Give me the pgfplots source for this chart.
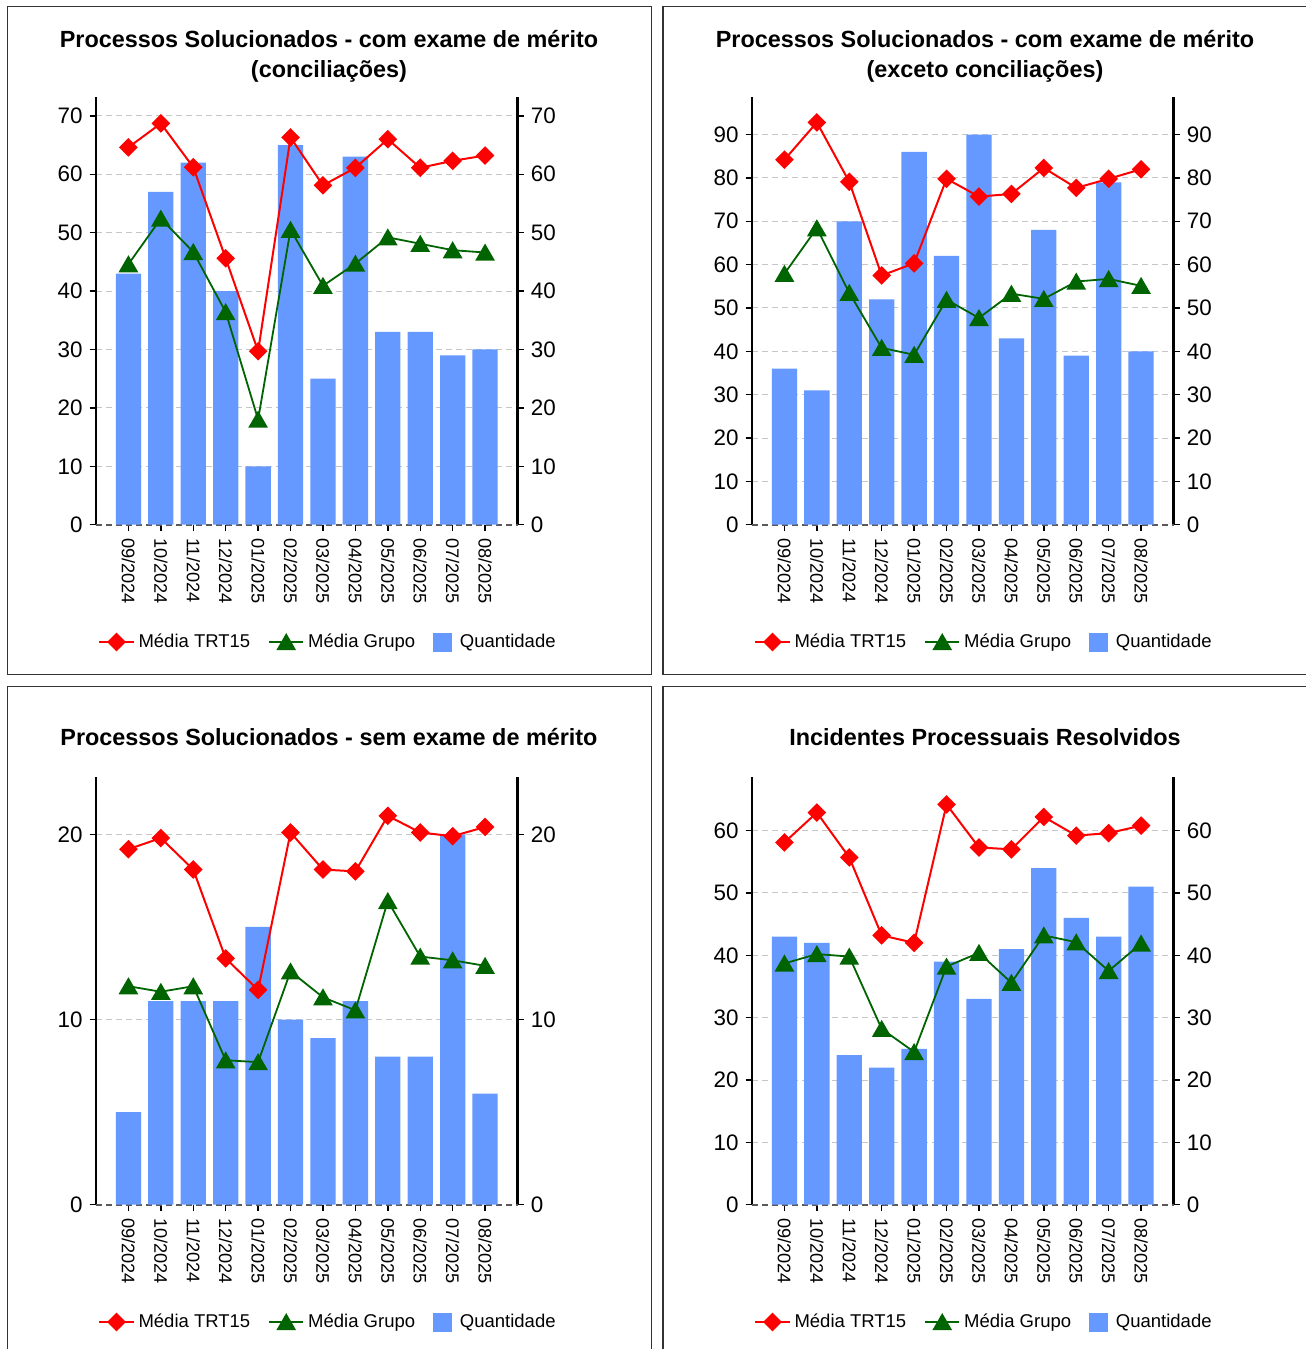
\documentclass[border=0pt]{standalone}
\usepackage{fontspec}
\setmainfont{Liberation Sans}
\usepackage{pgfplots}
\pgfplotsset{compat=1.18}
\usepackage{pgfplotstable}
\definecolor{barblue}{HTML}{6699FF}
\definecolor{grpgreen}{HTML}{006400}
\definecolor{trtred}{HTML}{FF0000}

\pgfplotstableread{
x q trt grp
0 43 64.6 44.6
1 57 68.7 52.4
2 62 61.2 46.7
3 40 45.6 36.4
4 10 29.7 18.0
5 65 66.3 50.5
6 25 58.1 40.9
7 63 61.1 44.7
8 33 66.0 49.2
9 33 61.1 48.1
10 29 62.3 47.0
11 30 63.2 46.6
}\tA
\pgfplotstableread{
x q trt grp
0 36 84.2 57.9
1 31 92.8 68.4
2 70 79.1 53.5
3 52 57.5 40.8
4 86 60.3 39.2
5 62 79.8 51.9
6 90 75.7 47.7
7 43 76.3 53.3
8 68 82.3 52.1
9 39 77.7 56.1
10 79 79.8 56.7
11 40 82.0 55.1
}\tB
\pgfplotstableread{
x q trt grp
0 5 19.2 11.8
1 11 19.8 11.5
2 11 18.1 11.8
3 11 13.3 7.8
4 15 11.6 7.7
5 10 20.1 12.6
6 9 18.1 11.2
7 11 18.0 10.5
8 8 21.0 16.4
9 8 20.1 13.4
10 20 19.9 13.2
11 6 20.4 12.9
}\tC
\pgfplotstableread{
x q trt grp
0 43 58.1 38.7
1 42 62.9 40.2
2 24 55.7 39.8
3 22 43.2 28.2
4 25 42.0 24.5
5 39 64.2 38.2
6 33 57.3 40.4
7 41 57.0 35.6
8 54 62.2 43.2
9 46 59.2 42.1
10 43 59.6 37.5
11 51 60.8 41.9
}\tD

\pgfplotsset{
  base/.style={
    scale only axis, width=210.75pt, height=213.7pt,
    xmin=-1, xmax=12, ymin=0,
    /pgf/number format/assume math mode=true,
    tick align=outside,
    major tick length=3.2pt,
    major tick style={black, line width=0.7pt},
    clip=false,
  },
  main/.style={
    base,
    separate axis lines,
    x axis line style={draw=none},
    y axis line style={line width=1.1pt, black},
    xtick={0,...,11},
    xticklabels={09/2024,10/2024,11/2024,12/2024,01/2025,02/2025,03/2025,04/2025,05/2025,06/2025,07/2025,08/2025},
    xtick pos=left,
    x tick label style={rotate=-90, anchor=west, font=\fontsize{9.1}{10}\selectfont},
    ytick pos=both,
    yticklabel pos=left,
    y tick label style={font=\fontsize{11.2}{12}\selectfont},
    ymajorgrids,
    grid style={gray!45, line width=0.5pt, dash pattern=on 3pt off 2pt},
    title style={at={(0.5528,1.067)}, anchor=center, align=center, font=\bfseries\fontsize{11.7}{15}\selectfont},
    legend style={at={(0.5528,-0.2745)}, anchor=center, draw=none, fill=none, legend columns=3,
      font=\fontsize{9.25}{11}\selectfont, /tikz/every even column/.append style={column sep=7pt}},
  },
  rightax/.style={
    base,
    axis y line*=right,
    axis x line=none,
    y axis line style={draw=none},
    ytick style={draw=none},
    y tick label style={font=\fontsize{11.2}{12}\selectfont},
  },
  trtstyle/.style={trtred, line width=1pt, mark=square*, mark size=2.8pt, mark options={rotate=45}},
  grpstyle/.style={grpgreen, line width=0.9pt, mark=triangle*, mark size=4.8pt, mark options={yshift=-1.2pt}},
}

\newcommand{\panelplots}[1]{%
  \draw[black!65, line width=0.8pt, dash pattern=on 3pt off 2pt] (axis description cs:0,0) -- (axis description cs:1,0);
  \addplot[ybar, bar width=0.78, bar shift=0pt, fill=barblue, draw=none, forget plot] table[x=x,y=q] {#1};
  \addplot[trtstyle, forget plot] table[x=x,y=trt] {#1};
  \addplot[grpstyle, forget plot] table[x=x,y=grp] {#1};
  \addlegendimage{trtstyle}
  \addlegendentry{Média TRT15}
  \addlegendimage{grpstyle}
  \addlegendentry{Média Grupo}
  \addlegendimage{legend image code/.code={\fill[barblue] (0pt,-4.5pt) rectangle (9pt,4.5pt); \path (11pt,0pt);}}
  \addlegendentry{Quantidade}
}

\begin{document}
\begin{tikzpicture}
\useasboundingbox (0,0) rectangle (653pt,-674.5pt);
\clip (0,0) rectangle (653pt,-674.5pt);
\fill[white] (0,0) rectangle (653pt,-674.5pt);
% frames
\draw[black!80, line width=0.6pt] (3.8pt,-3.25pt) rectangle (325.85pt,-337.15pt);
\draw[black!80, line width=0.6pt] (331.5pt,-3.25pt) rectangle (653.6pt,-337.15pt);
\draw[black!80, line width=0.6pt] (3.8pt,-343.25pt) rectangle (325.85pt,-677pt);
\draw[black!80, line width=0.6pt] (331.5pt,-343.25pt) rectangle (653.6pt,-677pt);

% Panel 1
\begin{axis}[main, at={(48pt,-262.35pt)}, anchor=south west, ymax=73.17, ytick={0,10,...,70},
  title={Processos Solucionados - com exame de mérito\\(conciliações)}]
\panelplots{\tA}
\end{axis}
\begin{axis}[rightax, at={(48pt,-262.35pt)}, anchor=south west, ymax=73.17, ytick={0,10,...,70}]
\addplot[draw=none] coordinates {(0,0)};
\end{axis}

% Panel 2
\begin{axis}[main, at={(376pt,-262.35pt)}, anchor=south west, ymax=98.6, ytick={0,10,...,90},
  title={Processos Solucionados - com exame de mérito\\(exceto conciliações)}]
\panelplots{\tB}
\end{axis}
\begin{axis}[rightax, at={(376pt,-262.35pt)}, anchor=south west, ymax=98.6, ytick={0,10,...,90}]
\addplot[draw=none] coordinates {(0,0)};
\end{axis}

% Panel 3
\begin{axis}[main, at={(48pt,-602.35pt)}, anchor=south west, ymax=23.08, ytick={0,10,20},
  title={Processos Solucionados - sem exame de mérito}]
\panelplots{\tC}
\end{axis}
\begin{axis}[rightax, at={(48pt,-602.35pt)}, anchor=south west, ymax=23.08, ytick={0,10,20}]
\addplot[draw=none] coordinates {(0,0)};
\end{axis}

% Panel 4
\begin{axis}[main, at={(376pt,-602.35pt)}, anchor=south west, ymax=68.55, ytick={0,10,...,60},
  title={Incidentes Processuais Resolvidos}]
\panelplots{\tD}
\end{axis}
\begin{axis}[rightax, at={(376pt,-602.35pt)}, anchor=south west, ymax=68.55, ytick={0,10,...,60}]
\addplot[draw=none] coordinates {(0,0)};
\end{axis}
\end{tikzpicture}
\end{document}
